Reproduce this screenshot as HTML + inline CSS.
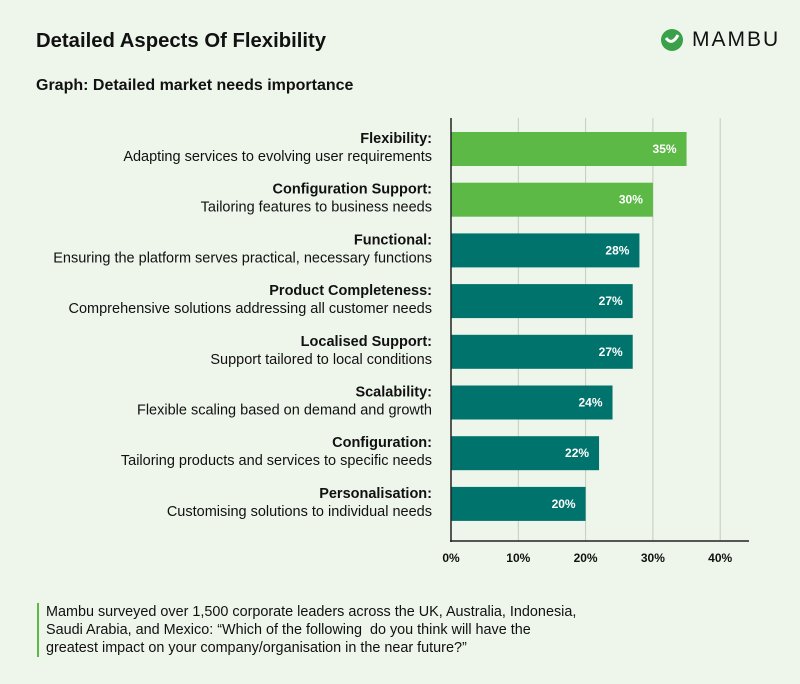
<!DOCTYPE html>
<html><head><meta charset="utf-8"><style>
body{margin:0;width:800px;height:684px;background:#eef6eb;font-family:"Liberation Sans",sans-serif;position:relative;overflow:hidden;color:#111}
.t{position:absolute;margin:0}
</style></head><body>
<h1 class="t" style="left:36px;top:30px;font-size:20.3px;font-weight:bold">Detailed Aspects Of Flexibility</h1>
<div class="t" style="left:660px;top:28px;display:flex;align-items:center">
<svg width="24" height="24"><circle cx="12" cy="12" r="11" fill="#3aa04a"/><path d="M6 10 Q12 18 18 7" stroke="#fff" stroke-width="3" fill="none"/></svg>
<span style="margin-left:8px;font-size:21px;letter-spacing:2px;color:#111">MAMBU</span></div>
<h2 class="t" style="left:36px;top:77px;font-size:16px;font-weight:bold">Graph: Detailed market needs importance</h2>
<svg id="chart" width="800" height="600" style="position:absolute;left:0;top:0"></svg>
<div class="t" style="left:37px;top:603px;border-left:2px solid #5cb946;padding-left:7px;font-size:14.4px;line-height:18px;white-space:nowrap">Mambu surveyed over 1,500 corporate leaders across the UK, Australia, Indonesia,<br>Saudi Arabia, and Mexico: “Which of the following&nbsp; do you think will have the<br>greatest impact on your company/organisation in the near future?”</div>
<script>
const titles=["Flexibility:","Configuration Support:","Functional:","Product Completeness:","Localised Support:","Scalability:","Configuration:","Personalisation:"];
const descs=["Adapting services to evolving user requirements","Tailoring features to business needs","Ensuring the platform serves practical, necessary functions","Comprehensive solutions addressing all customer needs","Support tailored to local conditions","Flexible scaling based on demand and growth","Tailoring products and services to specific needs","Customising solutions to individual needs"];
const values=[35,30,28,27,27,24,22,20];
const ticks=[0,10,20,30,40];
const svg=document.getElementById('chart');const NS='http://www.w3.org/2000/svg';
const x=v=>451+v*6.73;const y=i=>132+i*50.7;
function mk(t,a){const e=document.createElementNS(NS,t);for(const k in a)e.setAttribute(k,a[k]);svg.appendChild(e);return e;}
ticks.forEach(t=>{if(t>0){const g=mk('line',{x1:x(t),x2:x(t),y1:118,y2:541,stroke:'#c4cbc2','stroke-width':1});

}
const l=mk('text',{x:x(t),y:562,'text-anchor':'middle','font-size':12,'font-weight':'bold',fill:'#111'});l.textContent=t+'%';

});
values.forEach((v,i)=>{const r=mk('rect',{x:451,y:y(i),width:x(v)-451,height:34,fill:i<2?'#5cb946':'#00736d'});


const vl=mk('text',{x:x(v)-10,y:y(i)+21,'text-anchor':'end','font-size':12,'font-weight':'bold',fill:'#fff'});vl.textContent=v+'%';


const a=mk('text',{x:432,y:y(i)+11,'text-anchor':'end','font-size':14.5,'font-weight':'bold',fill:'#111'});a.textContent=titles[i];


const b=mk('text',{x:432,y:y(i)+29,'text-anchor':'end','font-size':14.5,fill:'#111'});b.textContent=descs[i];

});
const ya=mk('line',{x1:451,x2:451,y1:118,y2:542,stroke:'#222','stroke-width':1.5});


const xa=mk('line',{x1:450,x2:749,y1:541,y2:541,stroke:'#222','stroke-width':1.5});


</script>
</body></html>
